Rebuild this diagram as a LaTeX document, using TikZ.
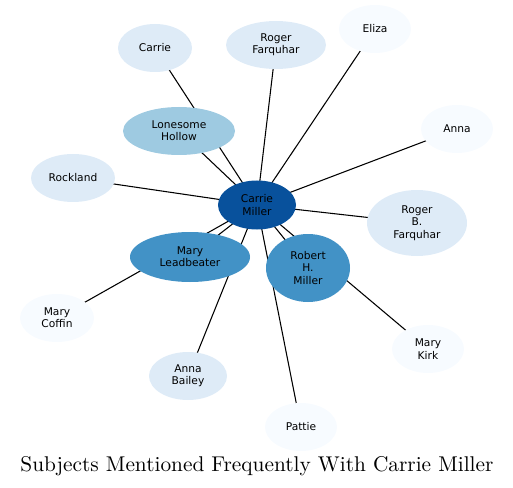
\documentclass[tikz,border=0pt]{standalone}
\usepackage{fontspec}
\newfontfamily\nodefont{DejaVu Sans}
\newfontfamily\titlefont{lmroman10-regular}[Extension=.otf]
\usetikzlibrary{shapes.geometric,backgrounds}
\definecolor{blueA}{HTML}{F7FBFF}
\definecolor{blueB}{HTML}{DEEBF7}
\definecolor{blueC}{HTML}{9ECAE1}
\definecolor{blueD}{HTML}{4292C6}
\definecolor{blueE}{HTML}{08519C}

\begin{document}
\begin{tikzpicture}[
        x=0.75pt, y=-0.75pt,
        person/.style={ellipse, inner sep=0pt, align=center, text=black,
            font=\nodefont\fontsize{8}{9.2}\selectfont},
        dims/.style 2 args={minimum width=#1*0.75pt, minimum height=#2*0.75pt},
        link/.style={line width=0.8pt, black}
    ]
        \useasboundingbox (0,0) rectangle (513,488);

        \node[person, fill=blueE, dims={78}{49}] (cmiller) at (257,205) {Carrie\\Miller};
        \node[person, fill=blueB, dims={74}{48}] (carrie) at (155,48) {Carrie};
        \node[person, fill=blueB, dims={100}{48}] (rfarquhar) at (276,45) {Roger\\Farquhar};
        \node[person, fill=blueA, dims={72}{48}] (eliza) at (375,29) {Eliza};
        \node[person, fill=blueA, dims={72}{48}] (anna) at (457,129) {Anna};
        \node[person, fill=blueC, dims={112}{48}] (lonesome) at (179,131) {Lonesome\\Hollow};
        \node[person, fill=blueB, dims={84}{48}] (rockland) at (73,178) {Rockland};
        \node[person, fill=blueB, dims={100}{66}] (rbfarquhar) at (417,223) {Roger\\B.\\Farquhar};
        \node[person, fill=blueD, dims={120}{50}] (leadbeater) at (190,257) {Mary\\Leadbeater};
        \node[person, fill=blueD, dims={84}{68}] (rhmiller) at (308,268) {Robert\\H.\\Miller};
        \node[person, fill=blueA, dims={74}{48}] (coffin) at (57,318) {Mary\\Coffin};
        \node[person, fill=blueA, dims={72}{48}] (kirk) at (428,349) {Mary\\Kirk};
        \node[person, fill=blueB, dims={78}{48}] (bailey) at (188,376) {Anna\\Bailey};
        \node[person, fill=blueA, dims={72}{48}] (pattie) at (301,427) {Pattie};

        \node[font=\titlefont\fontsize{16}{19}\selectfont] (title) at (257,466) {Subjects Mentioned Frequently With Carrie Miller};

        \begin{scope}[on background layer]
            \foreach \other in {carrie,rfarquhar,eliza,anna,lonesome,rockland,rbfarquhar,leadbeater,rhmiller,coffin,kirk,bailey,pattie}
                \draw[link] (cmiller.center) -- (\other.center);
        \end{scope}
    \end{tikzpicture}
\end{document}
